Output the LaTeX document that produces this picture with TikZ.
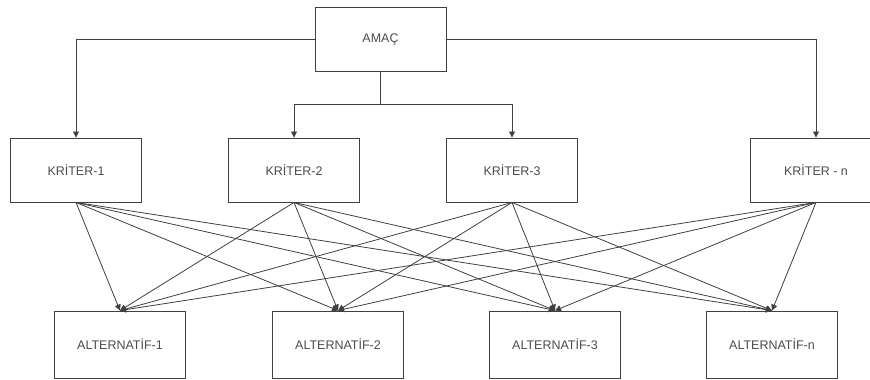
\documentclass[tikz,border=0pt]{standalone}
\usepackage{fontspec}
\setmainfont{Liberation Sans}
\usetikzlibrary{arrows.meta}
\tikzset{
  box/.style={draw=black!75, line width=0.9pt, minimum width=131pt, minimum height=64pt,
    inner sep=0pt, text=black!70, font=\fontsize{12.5}{14}\selectfont},
  altbox/.style={box, minimum height=67pt},
  link/.style={draw=black!75, line width=0.8pt, -{Triangle[length=6pt,width=6pt]}}
}
\begin{document}
\begin{tikzpicture}[x=1pt,y=-1pt]
  \useasboundingbox (0,0) rectangle (870,380);
  % goal
  \node[box] (amac) at (380.5,39) {AMAÇ};
  % criteria
  \node[box] (k1) at (76,170) {KRİTER-1};
  \node[box] (k2) at (294,170) {KRİTER-2};
  \node[box] (k3) at (512,170) {KRİTER-3};
  \node[box, minimum width=132pt] (kn) at (816,170) {KRİTER - n};
  % alternatives
  \node[altbox] (a1) at (120,344.5) {ALTERNATİF-1};
  \node[altbox] (a2) at (338,344.5) {ALTERNATİF-2};
  \node[altbox] (a3) at (555,344.5) {ALTERNATİF-3};
  \node[altbox] (an) at (772,344.5) {ALTERNATİF-n};
  % goal to criteria
  \coordinate (split) at (380.5,104);
  \draw[link] (amac.west) -| (k1.north);
  \draw[link] (amac.east) -| (kn.north);
  \draw[draw=black!75, line width=0.8pt] (amac.south) -- (split);
  \draw[link] (split) -| (k2.north);
  \draw[link] (split) -| (k3.north);
  % criteria to alternatives
  \foreach \k in {k1,k2,k3,kn}
    \foreach \a in {a1,a2,a3,an}
      \draw[link] (\k.south) -- (\a.north);
\end{tikzpicture}
\end{document}
